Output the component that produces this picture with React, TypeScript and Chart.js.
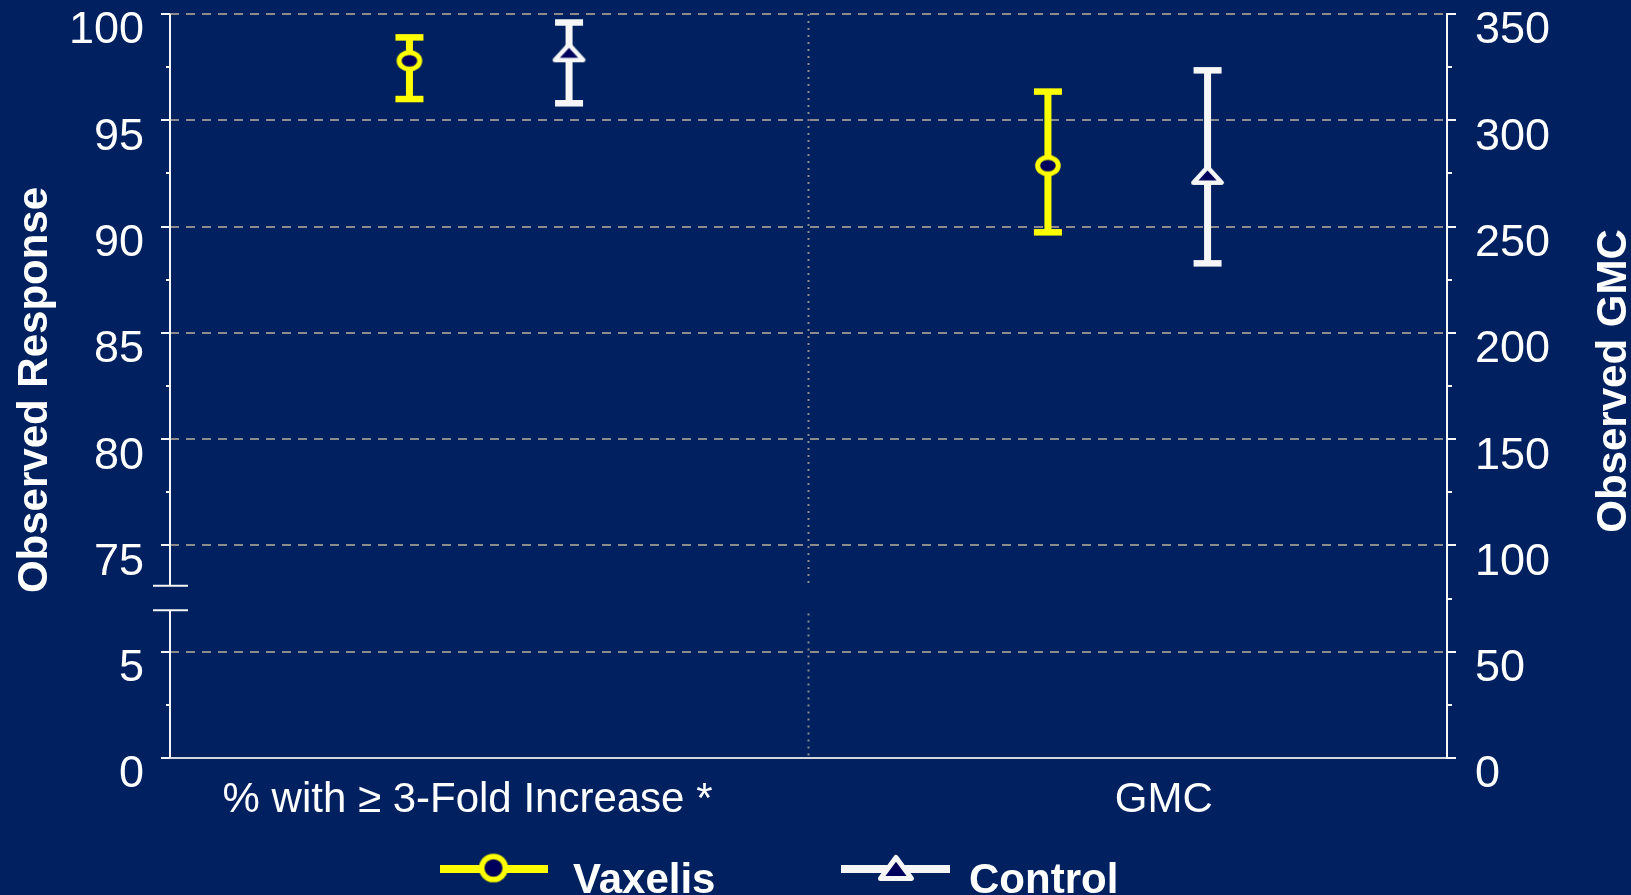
import React, { useEffect, useRef } from 'react';
import { Chart, registerables } from 'chart.js';

Chart.register(...registerables);

// ---------- data ----------
const CATEGORIES = ['% with ≥ 3-Fold Increase *', 'GMC'];
const SERIES_NAMES = ['Vaxelis', 'Control'];

const VAXELIS_VALUE = [97.8, 278.7];
const VAXELIS_LOW = [96.0, 247.3];
const VAXELIS_HIGH = [98.9, 313.5];

const CONTROL_VALUE = [98.2, 274.3];
const CONTROL_LOW = [95.8, 232.7];
const CONTROL_HIGH = [99.6, 323.5];

const LEFT_TICK_LABELS = ['0', '5', '75', '80', '85', '90', '95', '100'];
const RIGHT_TICK_LABELS = ['0', '50', '100', '150', '200', '250', '300', '350'];

const LEFT_AXIS_TITLE = 'Observed Response';
const RIGHT_AXIS_TITLE = 'Observed GMC';

// ---------- styling / layout constants ----------
const BG = '#002060';
const MARKER_FILL = '#00005c';
const YELLOW = '#ffff00';
const WHITE = '#f6f6f6';
const GRID = '#8c8c8c';
const FONT = 'Arial, "Liberation Sans", Helvetica, sans-serif';

const LEFT_BREAK_SHIFT = 65; // values >= 75 shown 65 units lower (axis break 5 -> 75)
const LEFT_BREAK_RANGE = [6.95, 8.1]; // break gap on the plotted scale
const CENTER_BREAK_RANGE = [6.8, 8.2];
const X_LABEL_POS = [0.932, 3.113];
const SERIES_OFFSET = [-0.25, 0.25];

const toLeft = (v: number) => (v >= 75 ? v - LEFT_BREAK_SHIFT : v);

function makeEllipse(rx: number, ry: number, lw: number, stroke: string, fill: string) {
  const c = document.createElement('canvas');
  const w = Math.ceil(2 * (rx + lw / 2) + 2);
  const h = Math.ceil(2 * (ry + lw / 2) + 2);
  c.width = w;
  c.height = h;
  const g = c.getContext('2d')!;
  g.beginPath();
  g.ellipse(w / 2, h / 2, rx, ry, 0, 0, Math.PI * 2);
  g.fillStyle = fill;
  g.fill();
  g.lineWidth = lw;
  g.strokeStyle = stroke;
  g.stroke();
  return c;
}

function makeTriangle(hw: number, hh: number, lw: number, stroke: string, fill: string) {
  const c = document.createElement('canvas');
  const w = Math.ceil(2 * (hw + lw / 2) + 2);
  const h = Math.ceil(2 * (hh + lw / 2) + 2);
  c.width = w;
  c.height = h;
  const g = c.getContext('2d')!;
  g.beginPath();
  g.moveTo(w / 2, h / 2 - hh);
  g.lineTo(w / 2 + hw, h / 2 + hh);
  g.lineTo(w / 2 - hw, h / 2 + hh);
  g.closePath();
  g.fillStyle = fill;
  g.fill();
  g.lineJoin = 'round';
  g.lineWidth = lw;
  g.strokeStyle = stroke;
  g.stroke();
  return c;
}

export default function App() {
  const ref = useRef<HTMLCanvasElement>(null);

  useEffect(() => {
    const canvas = ref.current!;
    const circle = makeEllipse(10.3, 8.3, 5, YELLOW, MARKER_FILL);
    const tri = makeTriangle(14.2, 7.7, 4.5, WHITE, MARKER_FILL);
    const legCircle = makeEllipse(11.8, 11.6, 5.5, YELLOW, MARKER_FILL);
    const legTri = makeTriangle(15.5, 10.5, 5, WHITE, MARKER_FILL);

    const series = [
      { name: SERIES_NAMES[0], value: VAXELIS_VALUE, low: VAXELIS_LOW, high: VAXELIS_HIGH, color: YELLOW, marker: circle, legMarker: legCircle },
      { name: SERIES_NAMES[1], value: CONTROL_VALUE, low: CONTROL_LOW, high: CONTROL_HIGH, color: WHITE, marker: tri, legMarker: legTri },
    ];

    const datasets: any[] = [];
    series.forEach((s, si) => {
      CATEGORIES.forEach((_, ci) => {
        const onLeft = ci === 0;
        const tr = (v: number) => (onLeft ? toLeft(v) : v);
        datasets.push({
          label: s.name,
          yAxisID: onLeft ? 'y' : 'y2',
          data: [{ x: 1 + 2 * ci + SERIES_OFFSET[si], y: tr(s.value[ci]) }],
          errLow: [tr(s.low[ci])],
          errHigh: [tr(s.high[ci])],
          errColor: s.color,
          pointStyle: s.marker,
          pointRadius: 12,
          borderColor: s.color,
          backgroundColor: MARKER_FILL,
          showLine: false,
        });
      });
    });

    const errorBars = {
      id: 'errorBars',
      beforeDatasetsDraw(chart: any) {
        const ctx = chart.ctx;
        chart.data.datasets.forEach((ds: any, i: number) => {
          const meta = chart.getDatasetMeta(i);
          const scale = chart.scales[ds.yAxisID];
          meta.data.forEach((pt: any, j: number) => {
            const x = pt.x;
            const yHi = scale.getPixelForValue(ds.errHigh[j]);
            const yLo = scale.getPixelForValue(ds.errLow[j]);
            ctx.save();
            ctx.fillStyle = ds.errColor;
            ctx.fillRect(x - 3.5, yHi, 7, yLo - yHi);
            ctx.fillRect(x - 14, yHi - 3.25, 28, 6.5);
            ctx.fillRect(x - 14, yLo - 3.25, 28, 6.5);
            ctx.restore();
          });
        });
      },
    };

    const axisDecor = {
      id: 'axisDecor',
      beforeDatasetsDraw(chart: any) {
        const ctx = chart.ctx;
        const y = chart.scales.y;
        const y2 = chart.scales.y2;
        const xs = chart.scales.x;
        const area = chart.chartArea;
        const ax = area.left;
        const bTop = y.getPixelForValue(LEFT_BREAK_RANGE[1]);
        const bBot = y.getPixelForValue(LEFT_BREAK_RANGE[0]);
        ctx.save();
        // center dotted separator with break
        const cx = xs.getPixelForValue(2);
        const cTop = y.getPixelForValue(CENTER_BREAK_RANGE[1]);
        const cBot = y.getPixelForValue(CENTER_BREAK_RANGE[0]);
        ctx.strokeStyle = GRID;
        ctx.lineWidth = 2;
        ctx.setLineDash([2, 5]);
        ctx.beginPath();
        ctx.moveTo(cx, area.top);
        ctx.lineTo(cx, cTop);
        ctx.moveTo(cx, cBot);
        ctx.lineTo(cx, area.bottom);
        ctx.stroke();
        ctx.setLineDash([]);
        // left axis line with break
        ctx.strokeStyle = WHITE;
        ctx.lineWidth = 2;
        ctx.beginPath();
        ctx.moveTo(ax, area.top);
        ctx.lineTo(ax, bTop);
        ctx.moveTo(ax, bBot);
        ctx.lineTo(ax, area.bottom);
        ctx.stroke();
        // break marks
        ctx.beginPath();
        ctx.moveTo(ax - 17, bTop);
        ctx.lineTo(ax + 18, bTop);
        ctx.moveTo(ax - 17, bBot);
        ctx.lineTo(ax + 18, bBot);
        ctx.stroke();
        // minor ticks left
        ctx.beginPath();
        for (let v = 2.5; v < 35; v += 5) {
          if (v > LEFT_BREAK_RANGE[0] - 1 && v < LEFT_BREAK_RANGE[1] + 1) continue;
          const py = Math.round(y.getPixelForValue(v));
          ctx.moveTo(ax - 4, py);
          ctx.lineTo(ax, py);
        }
        // minor ticks right
        const rx = area.right;
        for (let v = 25; v < 350; v += 50) {
          const py = Math.round(y2.getPixelForValue(v));
          ctx.moveTo(rx, py);
          ctx.lineTo(rx + 5, py);
        }
        ctx.stroke();
        ctx.restore();
      },
      afterDraw(chart: any) {
        const ctx = chart.ctx;
        ctx.save();
        // axis titles (both read bottom-to-top)
        ctx.fillStyle = '#ffffff';
        ctx.font = `bold 42px ${FONT}`;
        ctx.textAlign = 'center';
        ctx.textBaseline = 'alphabetic';
        ctx.save();
        ctx.translate(47, 390);
        ctx.rotate(-Math.PI / 2);
        ctx.fillText(LEFT_AXIS_TITLE, 0, 0);
        ctx.restore();
        ctx.save();
        ctx.translate(1626, 381);
        ctx.rotate(-Math.PI / 2);
        ctx.fillText(RIGHT_AXIS_TITLE, 0, 0);
        ctx.restore();
        // legend
        const items = [
          { x1: 440, x2: 548, mx: 493.5, tx: 573 },
          { x1: 841, x2: 950, mx: 896, tx: 969 },
        ];
        const ly = 869;
        series.forEach((s, i) => {
          const it = items[i];
          ctx.fillStyle = s.color;
          ctx.fillRect(it.x1, ly - 4, it.x2 - it.x1, 8);
          const m = s.legMarker;
          ctx.drawImage(m, it.mx - m.width / 2, 868 - m.height / 2);
          ctx.fillStyle = '#ffffff';
          ctx.font = `bold 42px ${FONT}`;
          ctx.textAlign = 'left';
          ctx.fillText(s.name, it.tx, 893);
        });
        ctx.restore();
      },
    };

    const tickFont = { family: FONT, size: 45 };

    const chart = new Chart(canvas, {
      type: 'scatter',
      data: { datasets },
      options: {
        animation: false,
        responsive: false,
        devicePixelRatio: 1,
        layout: { padding: { top: 14, left: 0, right: 0, bottom: 0 } },
        plugins: { legend: { display: false }, tooltip: { enabled: false } },
        scales: {
          x: {
            type: 'linear',
            min: 0,
            max: 4,
            grid: { display: false, drawTicks: false },
            border: { display: true, color: '#d4d6de', width: 2 },
            afterBuildTicks: (axis: any) => {
              axis.ticks = X_LABEL_POS.map((v) => ({ value: v }));
            },
            afterFit: (s: any) => {
              s.height = 137;
              s.paddingLeft = 0;
              s.paddingRight = 0;
            },
            ticks: {
              autoSkip: false,
              maxRotation: 0,
              minRotation: 0,
              padding: 17,
              color: '#ffffff',
              font: { family: FONT, size: 42 },
              callback: (_v: any, i: number) => CATEGORIES[i],
            },
          },
          y: {
            type: 'linear',
            position: 'left',
            min: 0,
            max: 35,
            afterFit: (s: any) => {
              s.width = 170;
              s.paddingTop = 0;
              s.paddingBottom = 0;
            },
            grid: {
              color: GRID,
              lineWidth: 2,
              drawTicks: true,
              tickLength: 9,
              tickColor: WHITE,
              tickWidth: 2,
              tickBorderDash: [],
            },
            border: { display: false, dash: [9, 7] },
            ticks: {
              stepSize: 5,
              padding: 17,
              labelOffset: 17,
              color: '#ffffff',
              font: tickFont,
              callback: (v: any) => LEFT_TICK_LABELS[Math.round(Number(v) / 5)],
            },
          },
          y2: {
            type: 'linear',
            position: 'right',
            min: 0,
            max: 350,
            afterFit: (s: any) => {
              s.width = 184;
              s.paddingTop = 0;
              s.paddingBottom = 0;
            },
            grid: {
              drawOnChartArea: false,
              drawTicks: true,
              tickLength: 9,
              color: WHITE,
              lineWidth: 2,
            },
            border: { display: true, color: WHITE, width: 2 },
            ticks: {
              stepSize: 50,
              padding: 19,
              labelOffset: 17,
              color: '#ffffff',
              font: tickFont,
              callback: (v: any) => RIGHT_TICK_LABELS[Math.round(Number(v) / 50)],
            },
          },
        },
      } as any,
      plugins: [errorBars, axisDecor],
    });

    return () => chart.destroy();
  }, []);

  return (
    <div style={{ position: 'fixed', left: 0, top: 0, width: 1631, height: 895, background: BG, overflow: 'hidden' }}>
      <canvas ref={ref} width={1631} height={895} style={{ display: 'block' }} />
    </div>
  );
}
